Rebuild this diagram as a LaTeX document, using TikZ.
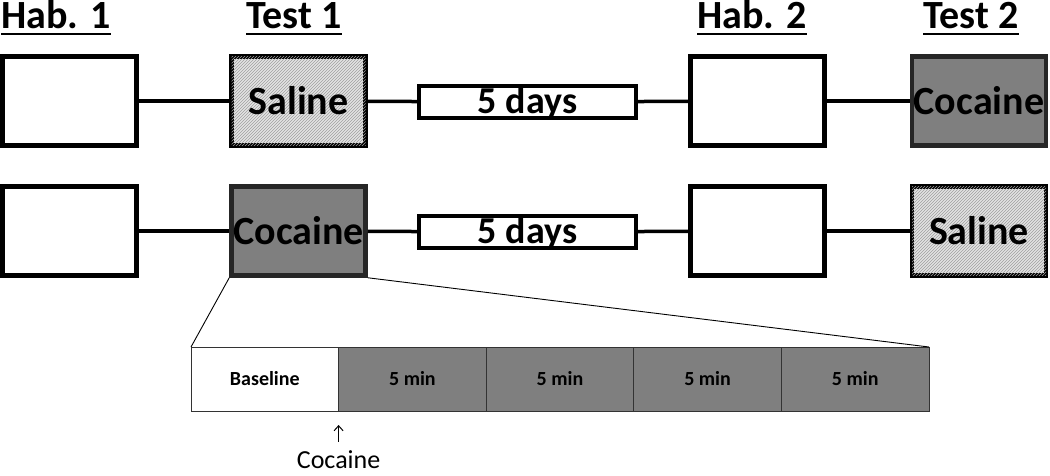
\documentclass[tikz,border=0pt]{standalone}
\usepackage{fontspec}
\setmainfont{Carlito}
\usetikzlibrary{positioning,arrows.meta,patterns}
\definecolor{cocgray}{RGB}{127,127,127}

\begin{document}
\begin{tikzpicture}[
  x=1pt, y=-1pt,
  big/.style={font=\bfseries\fontsize{40}{42}\selectfont},
  stage/.style={draw, big, line width=4.5pt, minimum width=134pt,
                minimum height=89pt, inner sep=0pt},
  gap/.style={draw, line width=4pt, minimum width=217pt,
              minimum height=32pt, inner sep=0pt, text height=22pt,
              text depth=0pt, font=\bfseries\fontsize{38}{40}\selectfont},
  saline/.style={fill=gray!22,
                 postaction={pattern=north east lines, pattern color=gray!75}},
  cocaine/.style={fill=cocgray, draw=black!85},
  link/.style={line width=3.5pt},
  head/.style={big, anchor=base, inner sep=0pt},
  seg/.style={draw=black!80, line width=0.8pt, minimum width=147.6pt,
              minimum height=64pt, inner sep=0pt, outer sep=0pt,
              font=\bfseries\fontsize{20}{22}\selectfont}
]
\useasboundingbox (0,0) rectangle (1050,475);

% headings
\node[head] (h1) at (56,28)  {Hab. 1};
\node[head] (t1) at (294,28) {Test 1};
\node[head] (h2) at (752,28) {Hab. 2};
\node[head] (t2) at (971,28) {Test 2};
\foreach \n in {h1,t1,h2,t2}
  \draw[line width=2.8pt]
    ([yshift=-6pt]\n.base west) -- ([yshift=-6pt]\n.base east);

% first group
\node[stage]         (hab1a)  at (69.5,101)  {};
\node[stage, saline] (test1a) at (298.5,101) {Saline};
\node[gap]           (daysa)  at (527.5,102) {5 days};
\node[stage]         (hab2a)  at (757.5,101) {};
\node[stage, cocaine](test2a) at (979,101)   {Cocaine};
\draw[link] (hab1a) -- (test1a);
\draw[link] (test1a) -- (daysa);
\draw[link] (daysa) -- (hab2a);
\draw[link] (hab2a) -- (test2a);

% second group
\node[stage]         (hab1b)  at (69.5,231)  {};
\node[stage, cocaine](test1b) at (298.5,231) {Cocaine};
\node[gap]           (daysb)  at (527.5,232) {5 days};
\node[stage]         (hab2b)  at (757.5,231) {};
\node[stage, saline] (test2b) at (979,231)   {Saline};
\draw[link] (hab1b) -- (test1b);
\draw[link] (test1b) -- (daysb);
\draw[link] (daysb) -- (hab2b);
\draw[link] (hab2b) -- (test2b);

% session time line
\node[seg, fill=white] (base) at (264.8,379) {Baseline};
\foreach \i in {1,...,4}
  \node[seg, fill=cocgray] (min\i) at ({264.8+147.6*\i},379) {5 min};

\draw[line width=0.9pt] (test1b.south west) -- (base.north west);
\draw[line width=0.9pt] (test1b.south east) -- (min4.north east);

% injection
\node[anchor=base, inner sep=0pt, font=\fontsize{26}{28}\selectfont]
  (inj) at (338.6,468) {Cocaine};
\draw[-{Straight Barb[length=5pt,width=9pt]}, line width=1pt,
      shorten <=8pt, shorten >=14pt] (inj.north) -- (base.south east);

\end{tikzpicture}
\end{document}
